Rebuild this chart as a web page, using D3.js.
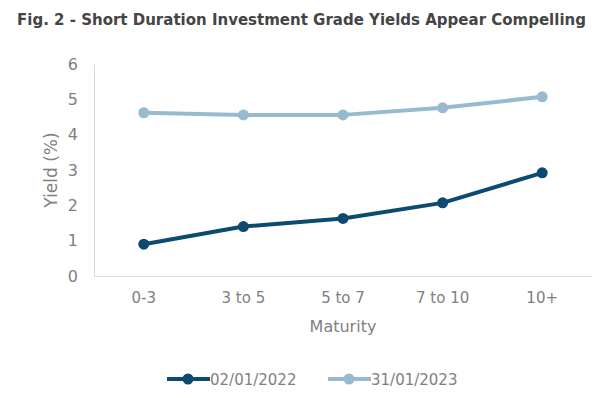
<!DOCTYPE html>
<html>
<head>
<meta charset="utf-8">
<script src="https://cdn.jsdelivr.net/npm/d3@7"></script>
<style>
  body { margin: 0; background: #fff; }
  text { font-family: Tahoma, "DejaVu Sans", sans-serif; }
</style>
</head>
<body>
<svg id="chart" width="606" height="398"></svg>
<script>
const categories = ['0-3', '3 to 5', '5 to 7', '7 to 10', '10+']
const yield2022 = [0.90, 1.40, 1.63, 2.07, 2.92]
const yield2023 = [4.62, 4.56, 4.56, 4.76, 5.07]
const seriesNames = ['02/01/2022', '31/01/2023']
const yTicks = [0, 1, 2, 3, 4, 5, 6]

const colors = ['#0d4a70', '#98bad0']
const textGrey = '#808080'

const svg = d3.select('#chart')
const plotLeft = 94, plotRight = 592, plotTop = 64, plotBottom = 276

const x = d3.scaleBand().domain(categories).range([plotLeft, plotRight])
const y = d3.scaleLinear().domain([0, 6]).range([plotBottom, plotTop])

// title
svg.append('text')
  .attr('x', 17).attr('y', 25)
  .attr('font-size', 15).attr('font-weight', 'bold')
  .attr('fill', '#454545')
  .text('Fig. 2 - Short Duration Investment Grade Yields Appear Compelling')

// axes
const axisY = d3.axisLeft(y).tickValues(yTicks).tickFormat(d3.format('d'))
  .tickSize(0).tickPadding(16)
const gy = svg.append('g').attr('transform', `translate(${plotLeft},0)`).call(axisY)
gy.select('.domain').attr('stroke', '#d9d9d9')
gy.selectAll('text').attr('font-size', 16).attr('fill', textGrey)
  .attr('font-family', '"DejaVu Sans", sans-serif')

const axisX = d3.axisBottom(x).tickSize(0).tickPadding(16)
const gx = svg.append('g').attr('transform', `translate(0,${plotBottom})`).call(axisX)
gx.select('.domain').attr('stroke', '#d9d9d9')
gx.selectAll('text').attr('font-size', 15).attr('fill', textGrey)
  .attr('font-family', '"DejaVu Sans", sans-serif')

svg.append('text')
  .attr('transform', `translate(57,${(plotTop + plotBottom) / 2}) rotate(-90)`)
  .attr('text-anchor', 'middle')
  .attr('font-size', 17).attr('fill', textGrey)
  .attr('font-family', '"DejaVu Sans", sans-serif')
  .text('Yield (%)')

svg.append('text')
  .attr('x', (plotLeft + plotRight) / 2).attr('y', 332)
  .attr('text-anchor', 'middle')
  .attr('font-size', 16).attr('fill', textGrey)
  .attr('font-family', '"DejaVu Sans", sans-serif')
  .text('Maturity')

// lines
const line = d3.line()
  .x((d, i) => x(categories[i]) + x.bandwidth() / 2)
  .y(d => y(d))

;[yield2023, yield2022].forEach((vals, k) => {
  const c = colors[1 - k]
  svg.append('path')
    .attr('d', line(vals))
    .attr('stroke', c).attr('stroke-width', 4)
    .attr('fill', 'none').attr('stroke-linejoin', 'round')
  svg.selectAll(null).data(vals).enter()
    .append('circle')
    .attr('cx', (d, i) => x(categories[i]) + x.bandwidth() / 2)
    .attr('cy', d => y(d))
    .attr('r', 5.5)
    .attr('fill', c)
})

// legend
const legendX = [167, 328]
seriesNames.forEach((name, i) => {
  const g = svg.append('g').attr('transform', `translate(${legendX[i]},379)`)
  g.append('line').attr('x1', 0).attr('x2', 43)
    .attr('stroke', colors[i]).attr('stroke-width', 4)
  g.append('circle').attr('cx', 21).attr('r', 5.5).attr('fill', colors[i])
  g.append('text').attr('x', 43).attr('y', 6)
    .attr('font-size', 15).attr('fill', textGrey)
    .attr('font-family', '"DejaVu Sans", sans-serif')
    .text(name)
})
</script>
</body>
</html>
